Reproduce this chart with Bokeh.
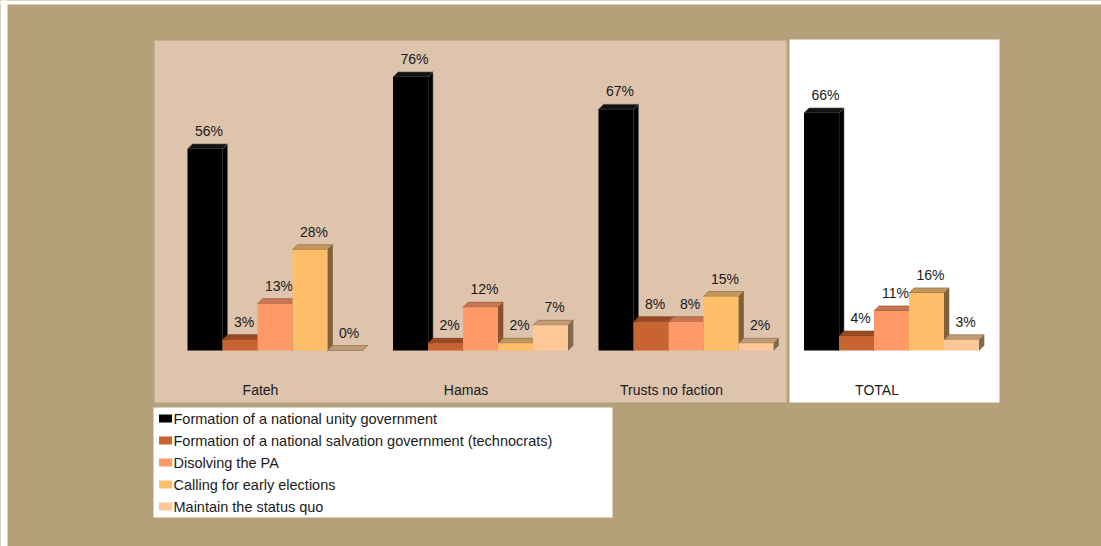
from bokeh.plotting import figure
from bokeh.models import Range1d, ColumnDataSource
from bokeh.core.properties import value
from bokeh.embed import file_html
from bokeh.resources import INLINE

# ---------------- data ----------------
categories = ["Fateh", "Hamas", "Trusts no faction", "TOTAL"]
series = [
    "Formation of a national unity government",
    "Formation of a national salvation government (technocrats)",
    "Disolving the PA",
    "Calling for early elections",
    "Maintain the status quo",
]
unity = [56, 76, 67, 66]
salvation = [3, 2, 8, 4]
dissolve = [13, 12, 8, 11]
elections = [28, 2, 15, 16]
status_quo = [0, 7, 2, 3]
values = [unity, salvation, dissolve, elections, status_quo]

# ---------------- styles ----------------
front_colors = ["#000000", "#C8642F", "#FF9966", "#FFBF6A", "#FFC898"]
top_colors = ["#111111", "#9C4A26", "#C87551", "#C2965A", "#C29A72"]
side_colors = ["#000000", "#6E3318", "#8A5033", "#80613A", "#806A4E"]
edge_colors = ["#666666", "#6E3318", "#8A5033", "#80613A", "#806A4E"]

FONT = "Liberation Sans"
TXT = "#1a1a1a"
TAN = "#B5A07A"
W, H = 1101, 546
BASE = 350.0      # pixel row of the zero line
SCALE = 3.6       # pixels per percentage point
BAR_W = 35.0
GROUP0 = 187.0
GROUP_STEP = 205.5
DEPTH = 5.0


def py(px):
    """layout helper: screen pixel row -> data y"""
    return (BASE - px) / SCALE


DD = DEPTH / SCALE

p = figure(width=W, height=H, x_range=Range1d(0, W), y_range=Range1d(py(H), py(0)),
           output_backend="svg", toolbar_location=None, min_border=0,
           background_fill_color=TAN, border_fill_color=TAN)
p.axis.visible = False
p.grid.visible = False
p.outline_line_color = None

# page background pieces (white margin at left / top)
p.quad(left=[-5, -5], right=[7, W + 5], bottom=[py(H + 5), py(4)], top=[py(-5), py(-5)],
       fill_color="#FFFFFF", line_color=None)
# panels
p.quad(left=[154], right=[786], top=[py(40)], bottom=[py(402)],
       fill_color="#DEC3AD", line_color=None)
p.quad(left=[789], right=[999], top=[py(39)], bottom=[py(402)],
       fill_color="#FFFFFF", line_color=None)
p.quad(left=[153], right=[612], top=[py(407)], bottom=[py(517)],
       fill_color="#FFFFFF", line_color=None)

# ---------------- bars ----------------
for si, vals in enumerate(values):
    x0s = [GROUP0 + GROUP_STEP * g + BAR_W * si for g in range(len(categories))]
    x1s = [x + BAR_W for x in x0s]
    sx, sy, tx, ty = [], [], [], []
    for x0, x1, v in zip(x0s, x1s, vals):
        sx.append([x1, x1 + DEPTH, x1 + DEPTH, x1])
        sy.append([0, DD, v + DD, v])
        tx.append([x0, x1, x1 + DEPTH, x0 + DEPTH])
        ty.append([v, v, v + DD, v + DD])
    p.patches(xs=sx, ys=sy, fill_color=side_colors[si], line_color=edge_colors[si], line_width=0.6)
    p.patches(xs=tx, ys=ty, fill_color=top_colors[si], line_color=edge_colors[si], line_width=0.6)
    p.quad(left=x0s, right=x1s, bottom=[0] * len(vals), top=vals,
           fill_color=front_colors[si], line_color=None)
    src = ColumnDataSource(dict(x=[(a + b) / 2 for a, b in zip(x0s, x1s)], y=vals,
                                t=[f"{v}%" for v in vals]))
    p.text(x="x", y="y", text="t", source=src, x_offset=4, y_offset=-18,
           text_align="center", text_baseline="middle", text_font=value(FONT),
           text_font_size="14px", text_color=TXT)

# category labels
cat_x = [GROUP0 + GROUP_STEP * g + BAR_W * len(series) / 2 - 14.5 for g in range(len(categories))]
p.text(x=cat_x, y=[py(389)] * len(categories), text=categories, text_align="center",
       text_baseline="middle", text_font=value(FONT), text_font_size="14px", text_color=TXT)

# ---------------- legend ----------------
ly = [py(418 + 22 * i) for i in range(len(series))]
p.rect(x=[165] * len(series), y=ly, width=13, height=8 / SCALE,
       fill_color=front_colors, line_color=None)
p.text(x=[173] * len(series), y=ly, text=series, text_align="left", text_baseline="middle",
       text_font=value(FONT), text_font_size="14.5px", text_color=TXT)

html = file_html(p, INLINE)
html = html.replace("<head>", "<head><style>html,body{margin:0;padding:0;overflow:hidden;background:%s;}</style>" % TAN, 1)
open("out.html", "w").write(html)
